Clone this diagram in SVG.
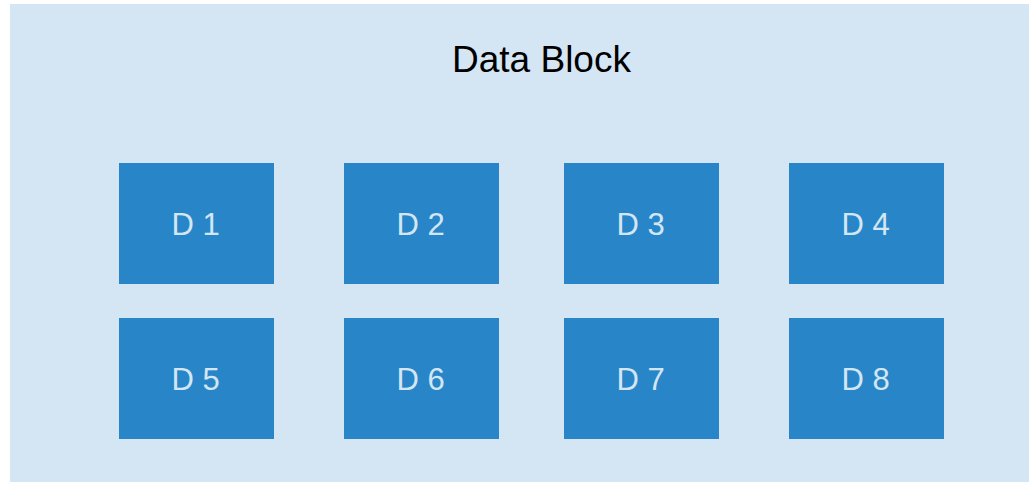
<svg xmlns="http://www.w3.org/2000/svg" width="1029" height="482" viewBox="0 0 1029 482">
  <style>
    .page { fill: #ffffff; }
    .panel { fill: #d4e6f4; }
    .cell { fill: #2886c8; }
    .cell-label { fill: #d4e6f4; font-family: "Liberation Sans", Arial, sans-serif; font-size: 31px; text-anchor: middle; }
    .title { fill: #000000; font-family: "Liberation Sans", Arial, sans-serif; font-size: 37px; text-anchor: middle; }
  </style>
  <rect class="page" x="0" y="0" width="1029" height="482"/>
  <g id="data-block">
    <rect class="panel" x="10" y="4" width="1019" height="478"/>
    <text class="title" x="541.5" y="72">Data Block</text>
  </g>
  <g id="d1"><rect class="cell" x="119" y="163" width="155" height="121"/><text class="cell-label" x="195.5" y="235">D 1</text></g>
  <g id="d2"><rect class="cell" x="344" y="163" width="155" height="121"/><text class="cell-label" x="420.5" y="235">D 2</text></g>
  <g id="d3"><rect class="cell" x="564" y="163" width="155" height="121"/><text class="cell-label" x="640.5" y="235">D 3</text></g>
  <g id="d4"><rect class="cell" x="789" y="163" width="155" height="121"/><text class="cell-label" x="865.5" y="235">D 4</text></g>
  <g id="d5"><rect class="cell" x="119" y="318" width="155" height="121"/><text class="cell-label" x="195.5" y="390">D 5</text></g>
  <g id="d6"><rect class="cell" x="344" y="318" width="155" height="121"/><text class="cell-label" x="420.5" y="390">D 6</text></g>
  <g id="d7"><rect class="cell" x="564" y="318" width="155" height="121"/><text class="cell-label" x="640.5" y="390">D 7</text></g>
  <g id="d8"><rect class="cell" x="789" y="318" width="155" height="121"/><text class="cell-label" x="865.5" y="390">D 8</text></g>
  <g id="connectors"/>
</svg>
